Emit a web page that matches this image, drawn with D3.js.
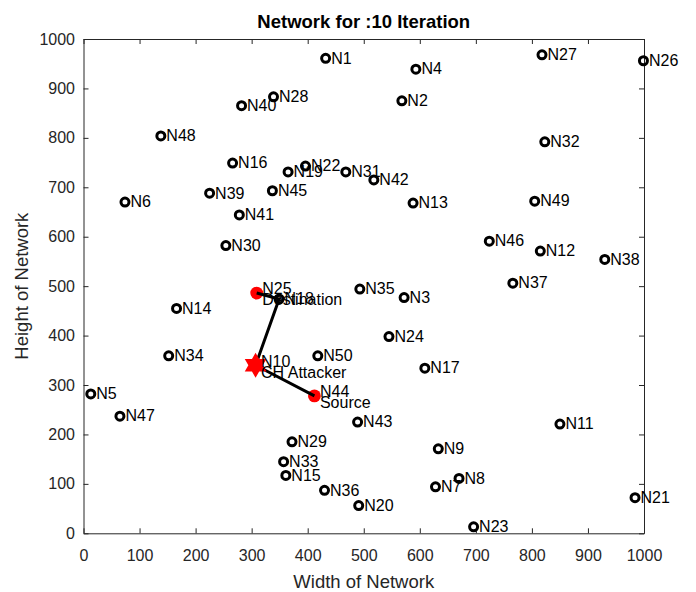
<!DOCTYPE html>
<html>
<head>
<meta charset="utf-8">
<script src="https://cdn.jsdelivr.net/npm/d3@7"></script>
<style>
  body { margin: 0; background: #fff; }
  svg { display: block; font-family: "Liberation Sans", Arial, sans-serif; }
</style>
</head>
<body>
<svg id="chart"></svg>
<script>
// node positions N1..N50
const nodeNames = d3.range(1, 51).map(i => "N" + i);
const nodeX = [432, 568, 572, 593, 13, 74, 628, 670, 633, 307, 850, 815, 588, 166, 361, 266, 609, 349, 365, 491,
               984, 396, 696, 545, 309, 999, 818, 339, 372, 254, 468, 823, 357, 152, 493, 430, 766, 930, 225, 282,
               278, 518, 489, 412, 337, 724, 65, 138, 805, 418];
const nodeY = [961, 875, 477, 939, 282, 670, 94, 111, 171, 340, 221, 571, 668, 455, 117, 749, 334, 474, 731, 56,
               72, 743, 13, 398, 486, 956, 968, 883, 185, 582, 731, 792, 145, 359, 494, 87, 506, 554, 688, 865,
               644, 715, 225, 278, 693, 591, 237, 804, 672, 359];

// route source -> CH -> destination
const route = [44, 10, 18, 25];
const redNodes = [25, 44];
const attackerNode = 10;
const roleLabels = [
  { node: 25, text: "Destination" },
  { node: 10, text: "CH Attacker" },
  { node: 44, text: "Source" }
];
const xTicks = d3.range(0, 1001, 100);
const yTicks = d3.range(0, 1001, 100);

const width = 696, height = 592;
const margin = { top: 39, right: 52, bottom: 58.7, left: 83.5 };
const innerWidth = width - margin.left - margin.right;
const innerHeight = height - margin.top - margin.bottom;
const axisColor = "#262626";

const svg = d3.select("#chart").attr("width", width).attr("height", height);
const g = svg.append("g").attr("transform", `translate(${margin.left},${margin.top})`);

const x = d3.scaleLinear().domain([0, 1000]).range([0, innerWidth]);
const y = d3.scaleLinear().domain([0, 1000]).range([innerHeight, 0]);

function styleAxis(sel) {
  sel.attr("font-family", null).attr("font-size", null);
  sel.select(".domain").attr("stroke", axisColor).attr("stroke-width", 1);
  sel.selectAll(".tick line").attr("stroke", axisColor).attr("stroke-width", 1);
  sel.selectAll(".tick text").attr("fill", axisColor).style("font-size", "16px");
}

// axes with inward ticks (box on)
g.append("g").attr("transform", `translate(0,${innerHeight})`)
  .call(d3.axisBottom(x).tickValues(xTicks).tickFormat(d3.format("d"))
    .tickSizeInner(-5).tickSizeOuter(0).tickPadding(16))
  .call(styleAxis);
g.append("g")
  .call(d3.axisLeft(y).tickValues(yTicks).tickFormat(d3.format("d"))
    .tickSizeInner(-5).tickSizeOuter(0).tickPadding(8.5))
  .call(styleAxis);
g.append("g")
  .call(d3.axisTop(x).tickValues(xTicks).tickSizeInner(-5).tickSizeOuter(0).tickFormat(""))
  .call(styleAxis);
g.append("g").attr("transform", `translate(${innerWidth},0)`)
  .call(d3.axisRight(y).tickValues(yTicks).tickSizeInner(-5).tickSizeOuter(0).tickFormat(""))
  .call(styleAxis);

const nodes = nodeNames.map((name, i) => ({ id: i + 1, name: name, x: nodeX[i], y: nodeY[i] }));
const byId = id => nodes[id - 1];

// all nodes as open circles
g.selectAll("circle.node")
  .data(nodes)
  .enter().append("circle")
  .attr("class", "node")
  .attr("cx", d => x(d.x))
  .attr("cy", d => y(d.y))
  .attr("r", 4)
  .attr("fill", "none")
  .attr("stroke", "#000")
  .attr("stroke-width", 3);

// source / destination in red
g.selectAll("circle.red")
  .data(redNodes.map(byId))
  .enter().append("circle")
  .attr("class", "red")
  .attr("cx", d => x(d.x))
  .attr("cy", d => y(d.y))
  .attr("r", 6.4)
  .attr("fill", "#ff0000");

// route line
g.append("path")
  .datum(route.map(byId))
  .attr("fill", "none")
  .attr("stroke", "#000")
  .attr("stroke-width", 3)
  .attr("d", d3.line().x(d => x(d.x)).y(d => y(d.y)));

// hexagram for the attacker
function hexagram(R) {
  const r = R / Math.sqrt(3);
  const pts = d3.range(12).map(k => {
    const a = -Math.PI / 2 + k * Math.PI / 6;
    const rr = k % 2 === 0 ? R : r;
    return [rr * Math.cos(a), rr * Math.sin(a)];
  });
  return "M" + pts.map(p => p.join(",")).join("L") + "Z";
}
const att = byId(attackerNode);
g.append("path")
  .attr("d", hexagram(12.5))
  .attr("transform", `translate(${x(att.x)},${y(att.y)})`)
  .attr("fill", "#ff0000");

// node labels
const special = new Set(roleLabels.map(d => d.node));
g.selectAll("text.label")
  .data(nodes)
  .enter().append("text")
  .attr("class", "label")
  .attr("x", d => x(d.x) + 5.5)
  .attr("y", d => y(d.y) + (special.has(d.id) ? -4 : 0))
  .attr("dy", "0.33em")
  .style("font-size", "16px")
  .attr("fill", "#000")
  .text(d => d.name);

g.selectAll("text.role")
  .data(roleLabels)
  .enter().append("text")
  .attr("class", "role")
  .attr("x", d => x(byId(d.node).x) + 5.5)
  .attr("y", d => y(byId(d.node).y) + 7)
  .attr("dy", "0.33em")
  .style("font-size", "16px")
  .attr("fill", "#000")
  .text(d => d.text);

// title and axis labels
svg.append("text")
  .attr("x", margin.left + innerWidth / 2)
  .attr("y", 28)
  .attr("text-anchor", "middle")
  .style("font-size", "18.5px")
  .style("font-weight", "bold")
  .attr("fill", "#000")
  .text("Network for :10 Iteration");

svg.append("text")
  .attr("x", margin.left + innerWidth / 2)
  .attr("y", 587.5)
  .attr("text-anchor", "middle")
  .style("font-size", "18.5px")
  .attr("fill", axisColor)
  .text("Width of Network");

svg.append("text")
  .attr("transform", `translate(28,${margin.top + innerHeight / 2}) rotate(-90)`)
  .attr("text-anchor", "middle")
  .style("font-size", "18.5px")
  .attr("fill", axisColor)
  .text("Height of Network");
</script>
</body>
</html>
